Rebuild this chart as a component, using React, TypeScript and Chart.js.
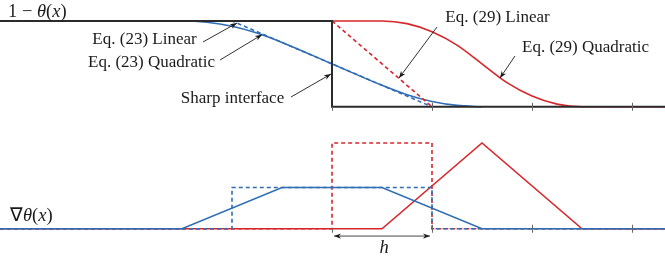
import React, { useEffect, useRef } from "react";
import { Chart, registerables } from "chart.js";

Chart.register(...registerables);

// ---- x extent (in units of h) ----
const X_MIN = -3.32;
const X_MAX = 3.33;

// ---- top panel: 1 - theta(x) ----
const sharpX = [-3.32, 0, 0, 3.33];
const sharpY = [1, 1, 0, 0];

const blueLinX = [-3.32, -1, 1];
const blueLinY = [1, 1, 0];

const blueQuadX = [-3.32, -1.5, -1.25, -1, -0.75, -0.5, 0, 0.5, 0.75, 1, 1.25, 1.5];
const blueQuadY = [1, 1, 0.984, 0.938, 0.859, 0.75, 0.5, 0.25, 0.141, 0.062, 0.016, 0];

const redLinX = [0, 1];
const redLinY = [1, 0];

const redQuadX = [0, 0.5, 0.75, 1, 1.25, 1.5, 1.75, 2, 2.25, 2.5, 3.33];
const redQuadY = [1, 1, 0.969, 0.875, 0.719, 0.5, 0.281, 0.125, 0.031, 0, 0];

// ---- bottom panel: grad theta(x) ----
const blueGradSolidX = [-3.32, -1.5, -0.5, 0.5, 1.5, 3.33];
const blueGradSolidY = [0, 0, 0.48, 0.48, 0, 0];

const blueGradDashX = [-3.32, -1, -1, 1, 1, 3.33];
const blueGradDashY = [0, 0, 0.48, 0.48, 0, 0];

const redGradSolidX = [-3.32, 0.5, 1.5, 2.5, 3.33];
const redGradSolidY = [0, 0, 1, 0, 0];

const redGradDashX = [-3.32, 0, 0, 1, 1, 3.33];
const redGradDashY = [0, 0, 1, 1, 0, 0];

const tickValues = [0, 1, 2, 3];

// ---- layout constants (not data) ----
const Y_MIN = -1.843;
const Y_MAX = 1.244;
const BOTTOM_BASE = -1.421;

const BLUE = "#2f6db5";
const RED = "#d7262b";
const BLACK = "#2b2b2b";
const FONT = '"Liberation Serif", "Times New Roman", serif';
const FS = 17;
const MATH_FS = 18.5;

type Ann = { text: string; tx: number; ty: number; ax: number; ay: number; bx: number; by: number };
const annotations: Ann[] = [
  { text: "Eq. (23) Linear", tx: -1.875, ty: 0.778, ax: -1.29, ay: 0.755, bx: -0.95, by: 0.976 },
  { text: "Eq. (23) Quadratic", tx: -1.805, ty: 0.51, ax: -1.12, ay: 0.545, bx: -0.7, by: 0.84 },
  { text: "Sharp interface", tx: -0.995, ty: 0.091, ax: -0.41, ay: 0.114, bx: -0.01, by: 0.382 },
  { text: "Eq. (29) Linear", tx: 1.655, ty: 1.034, ax: 1.05, ay: 0.929, bx: 0.67, by: 0.335 },
  { text: "Eq. (29) Quadratic", tx: 2.535, ty: 0.685, ax: 1.83, ay: 0.592, bx: 1.68, by: 0.335 },
];

const pts = (xs: number[], ys: number[], base = 0) => xs.map((x, i) => ({ x, y: ys[i] + base }));

function arrowHead(ctx: CanvasRenderingContext2D, x0: number, y0: number, x1: number, y1: number) {
  const ang = Math.atan2(y1 - y0, x1 - x0);
  const L = 7, W = 2.6;
  ctx.beginPath();
  ctx.moveTo(x1, y1);
  ctx.lineTo(x1 - L * Math.cos(ang) + W * Math.sin(ang), y1 - L * Math.sin(ang) - W * Math.cos(ang));
  ctx.lineTo(x1 - L * 0.7 * Math.cos(ang), y1 - L * 0.7 * Math.sin(ang));
  ctx.lineTo(x1 - L * Math.cos(ang) - W * Math.sin(ang), y1 - L * Math.sin(ang) + W * Math.cos(ang));
  ctx.closePath();
  ctx.fill();
}

function drawArrow(ctx: CanvasRenderingContext2D, x0: number, y0: number, x1: number, y1: number) {
  ctx.beginPath();
  ctx.moveTo(x0, y0);
  ctx.lineTo(x1, y1);
  ctx.stroke();
  arrowHead(ctx, x0, y0, x1, y1);
}

function drawMath(ctx: CanvasRenderingContext2D, parts: [string, boolean][], x: number, y: number) {
  let cx = x;
  for (const [t, it] of parts) {
    ctx.font = `${it ? "italic " : ""}${MATH_FS}px ${FONT}`;
    ctx.fillText(t, cx, y);
    cx += ctx.measureText(t).width;
  }
}

const overlay = {
  id: "overlay",
  afterDatasetsDraw(chart: any) {
    const ctx: CanvasRenderingContext2D = chart.ctx;
    const xs = chart.scales.x;
    const ys = chart.scales.y;
    const X = (v: number) => xs.getPixelForValue(v);
    const Y = (v: number) => ys.getPixelForValue(v);
    ctx.save();
    // ticks
    ctx.strokeStyle = "#666";
    ctx.lineWidth = 1;
    for (const t of tickValues) {
      for (const base of [0, BOTTOM_BASE]) {
        const px = Math.round(X(t)) + 0.5;
        const py = Y(base);
        ctx.beginPath();
        ctx.moveTo(px, t === 0 ? py : py - 4);
        ctx.lineTo(px, py + 4);
        ctx.stroke();
      }
    }
    // annotations
    ctx.fillStyle = "#1a1a1a";
    ctx.strokeStyle = "#1a1a1a";
    ctx.lineWidth = 0.9;
    ctx.textBaseline = "middle";
    ctx.textAlign = "center";
    ctx.font = `${FS}px ${FONT}`;
    for (const a of annotations) {
      ctx.fillText(a.text, X(a.tx), Y(a.ty));
      drawArrow(ctx, X(a.ax), Y(a.ay), X(a.bx), Y(a.by));
    }
    // h double arrow
    const hy = Y(BOTTOM_BASE - 0.085);
    ctx.strokeStyle = "#333";
    drawArrow(ctx, X(0.5), hy, X(0.02), hy);
    drawArrow(ctx, X(0.5), hy, X(0.98), hy);
    ctx.font = `italic ${MATH_FS}px ${FONT}`;
    ctx.fillText("h", X(0.52), Y(BOTTOM_BASE - 0.22));
    // axis labels
    ctx.textAlign = "left";
    ctx.fillStyle = "#1a1a1a";
    drawMath(ctx, [["1 \u2212 ", false], ["\u03b8", true], ["(", false], ["x", true], [")", false]], X(-3.24), Y(1.108));
    drawMath(ctx, [["\u2207", false], ["\u03b8", true], ["(", false], ["x", true], [")", false]], X(-3.22), Y(BOTTOM_BASE + 0.15));
    ctx.restore();
  },
};

export default function App() {
  const ref = useRef<HTMLCanvasElement | null>(null);
  useEffect(() => {
    document.body.style.margin = "0";
    const canvas = ref.current;
    if (!canvas) return;
    const base = { pointRadius: 0, fill: false, borderJoinStyle: "miter" as const };
    const chart = new Chart(canvas, {
      type: "line",
      data: {
        datasets: [
          // bottom panel (first = drawn on top)
          { ...base, data: pts(blueGradSolidX, blueGradSolidY, BOTTOM_BASE), borderColor: BLUE, borderWidth: 1.6 },
          { ...base, data: pts(blueGradDashX, blueGradDashY, BOTTOM_BASE), borderColor: BLUE, borderWidth: 1.6, borderDash: [4, 3] },
          { ...base, data: pts(redGradDashX, redGradDashY, BOTTOM_BASE), borderColor: RED, borderWidth: 1.6, borderDash: [4, 3] },
          { ...base, data: pts(redGradSolidX, redGradSolidY, BOTTOM_BASE), borderColor: RED, borderWidth: 1.6 },
          // top panel
          { ...base, data: pts(sharpX, sharpY), borderColor: BLACK, borderWidth: 2 },
          { ...base, data: pts(redLinX, redLinY), borderColor: RED, borderWidth: 1.6, borderDash: [4, 3] },
          { ...base, data: pts(redQuadX, redQuadY), borderColor: RED, borderWidth: 1.6, cubicInterpolationMode: "monotone" as const },
          { ...base, data: pts(blueLinX, blueLinY), borderColor: BLUE, borderWidth: 1.6, borderDash: [4, 3] },
          { ...base, data: pts(blueQuadX, blueQuadY), borderColor: BLUE, borderWidth: 1.6, cubicInterpolationMode: "monotone" as const },
        ],
      },
      options: {
        animation: false,
        responsive: false,
        maintainAspectRatio: false,
        layout: { padding: 0 },
        plugins: { legend: { display: false }, tooltip: { enabled: false } },
        elements: { line: { tension: 0 } },
        scales: {
          x: { type: "linear", min: X_MIN, max: X_MAX, display: false },
          y: { type: "linear", min: Y_MIN, max: Y_MAX, display: false },
        },
      },
      plugins: [overlay],
    });
    return () => chart.destroy();
  }, []);
  return (
    <div style={{ width: 665, height: 265, background: "#fff" }}>
      <canvas ref={ref} width={665} height={265} style={{ width: 665, height: 265, display: "block" }} />
    </div>
  );
}
